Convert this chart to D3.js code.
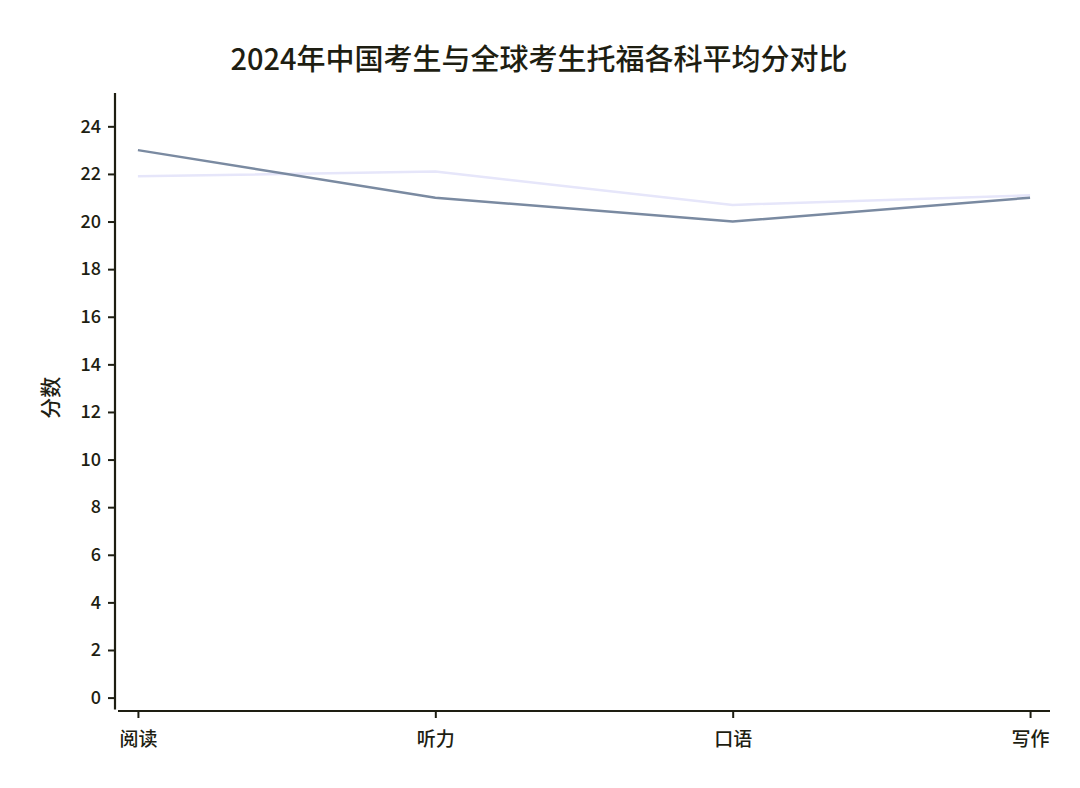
<!DOCTYPE html>
<html><head><meta charset="utf-8">
<script src="https://cdn.jsdelivr.net/npm/d3@7/dist/d3.min.js"></script>
<style>
body{margin:0;background:#fff;}
svg text{font-family:"Noto Sans CJK SC","Noto Sans",sans-serif;fill:#1e1e12;font-weight:500;}
</style></head>
<body>
<svg id="c" width="1080" height="788"></svg>
<script>
const categories = ["阅读","听力","口语","写作"];
const chinaScores = [23, 21, 20, 21];
const globalScores = [21.9, 22.1, 20.7, 21.1];
const yTicks = [0,2,4,6,8,10,12,14,16,18,20,22,24];
const title = "2024年中国考生与全球考生托福各科平均分对比";
const yLabel = "分数";

const svg = d3.select("#c");
const x = d3.scaleLinear().domain([-0.067, 3.067]).range([118, 1050]);
const y = d3.scaleLinear().domain([-0.5, 25.4]).range([709.5, 93]);
const axisColor = "#1e1e12";

// Y axis
const ya = svg.append("g").attr("transform","translate(115,0)")
  .call(d3.axisLeft(y).tickValues(yTicks).tickSize(7).tickPadding(7).tickFormat(d3.format("d")));
ya.select(".domain").attr("d", `M0,${y(-0.5)}V${y(25.4)}`).attr("stroke",axisColor).attr("stroke-width",2.2);
ya.selectAll(".tick line").attr("stroke",axisColor).attr("stroke-width",2);
ya.selectAll(".tick text").style("font-size","18px").attr("fill","#1e1e12");

// X axis
const xa = svg.append("g").attr("transform","translate(0,711)")
  .call(d3.axisBottom(x).tickValues([0,1,2,3]).tickSize(7).tickPadding(15).tickFormat(i => categories[i]));
xa.select(".domain").attr("d", `M${x(-0.067)},0H${x(3.067)}`).attr("stroke",axisColor).attr("stroke-width",2.2);
xa.selectAll(".tick line").attr("stroke",axisColor).attr("stroke-width",2);
xa.selectAll(".tick text").style("font-size","19px").attr("fill","#1e1e12");
svg.selectAll(".domain").attr("fill","none");

const line = d3.line().x((d,i)=>x(i)).y(d=>y(d));
svg.append("path").datum(globalScores).attr("d",line)
  .attr("fill","none").attr("stroke","#e6e6fa").attr("stroke-width",2.5);
svg.append("path").datum(chinaScores).attr("d",line)
  .attr("fill","none").attr("stroke","#7a8aa1").attr("stroke-width",2.5);

svg.append("text").attr("x",539).attr("y",70).attr("text-anchor","middle")
  .style("font-size","29px").text(title);
svg.append("text").attr("transform",`translate(58,${y(12.6)}) rotate(-90)`).attr("text-anchor","middle")
  .style("font-size","21px").text(yLabel);
</script>
</body></html>
